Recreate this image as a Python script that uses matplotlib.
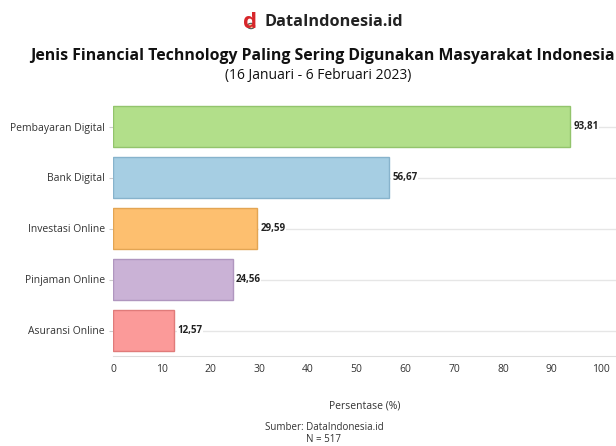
import matplotlib.pyplot as plt
from matplotlib.patches import Circle

plt.rcParams['font.family'] = ['Open Sans', 'DejaVu Sans']

categories = ['Pembayaran Digital', 'Bank Digital', 'Investasi Online',
              'Pinjaman Online', 'Asuransi Online']
values = [93.81, 56.67, 29.59, 24.56, 12.57]
colors = ['#b2df8a', '#a6cee3', '#fdbf6f', '#cab2d6', '#fb9a99']
edges = ['#93c46c', '#87b3cc', '#e3a553', '#b096bf', '#e07b7a']
xticks = [0, 10, 20, 30, 40, 50, 60, 70, 80, 90, 100]

fig = plt.figure(figsize=(6.16, 4.46), dpi=100)
ax = fig.add_axes([113 / 616, 1 - 356 / 446, 1 - 113 / 616, (356 - 101) / 446])

ypos = list(range(len(categories)))
ax.barh(ypos, values, height=0.8, color=colors, edgecolor=edges, linewidth=1, zorder=2)
for y in ypos:
    ax.axhline(y, color='#e6e6e6', linewidth=1, zorder=1)
for y, v in zip(ypos, values):
    ax.text(v + 0.6, y, f'{v:.2f}'.replace('.', ','), va='center', ha='left',
            fontsize=7, fontweight='bold', color='#222222', zorder=3,
            bbox=dict(facecolor='white', edgecolor='none', pad=0.5))

ax.set_ylim(len(categories) - 0.5, -0.5)
ax.set_xlim(0, 103.2)
ax.set_yticks(ypos)
ax.set_yticklabels(categories, fontsize=7.5, color='#333333')
ax.set_xticks(xticks)
ax.set_xticklabels([str(t) for t in xticks], fontsize=7.5, color='#333333')
ax.tick_params(axis='y', length=3, color='#cccccc', pad=3)
ax.tick_params(axis='x', length=0, pad=6)
for s in ['top', 'right', 'left']:
    ax.spines[s].set_visible(False)
ax.spines['bottom'].set_color('#dddddd')
ax.set_xlabel('Persentase (%)', fontsize=7.5, color='#333333', labelpad=18)

# header
fig.text(322 / 616, 1 - 56 / 446, 'Jenis Financial Technology Paling Sering Digunakan Masyarakat Indonesia',
         ha='center', va='center', fontsize=11.4, fontweight='bold', color='#111111')
fig.text(318 / 616, 1 - 75 / 446, '(16 Januari - 6 Februari 2023)',
         ha='center', va='center', fontsize=10, color='#111111')
fig.text(265 / 616, 1 - 22 / 446, 'DataIndonesia.id', ha='left', va='center',
         fontsize=11.7, fontweight='bold', color='#222222')
fig.text(250 / 616, 1 - 22 / 446, 'd', ha='center', va='center',
         fontsize=16, fontweight='bold', color='#d7262a')
fig.patches.append(Circle((251 / 616, 1 - 26 / 446), 0.006, transform=fig.transFigure,
                          facecolor='#f0d0a0', edgecolor='#555555', linewidth=0.8))

# footer
fig.text(324 / 616, 1 - 427 / 446, 'Sumber: DataIndonesia.id', ha='center', va='center',
         fontsize=7, color='#333333')
fig.text(324 / 616, 1 - 440 / 446, 'N = 517', ha='center', va='center',
         fontsize=7, color='#333333')

fig.savefig('out.png', dpi=100, facecolor='white')
